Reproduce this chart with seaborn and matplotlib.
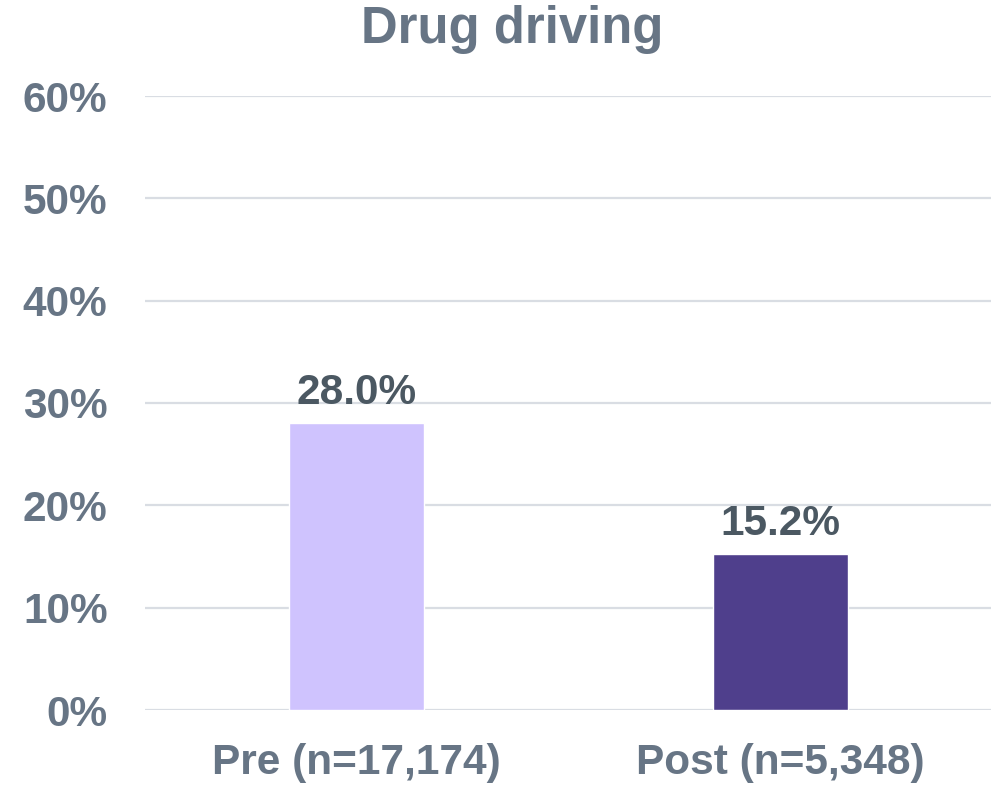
import matplotlib
matplotlib.use("Agg")
import matplotlib.pyplot as plt
import seaborn as sns
import pandas as pd

categories = ["Pre (n=17,174)", "Post (n=5,348)"]
values = [28.0, 15.2]
bar_colors = ["#CFC3FE", "#4F3F8C"]
y_ticks = [0, 10, 20, 30, 40, 50, 60]
y_tick_labels = ["0%", "10%", "20%", "30%", "40%", "50%", "60%"]
title = "Drug driving"

axis_grey = "#677585"
label_grey = "#4B5862"
grid_grey = "#D9DDE3"

sns.set_theme(style="white")
plt.rcParams["font.family"] = ["Liberation Sans", "DejaVu Sans"]
plt.rcParams["font.weight"] = "bold"

df = pd.DataFrame({"group": categories, "pct": values})

fig = plt.figure(figsize=(9.91, 7.85), dpi=100)
ax = fig.add_axes([145 / 991, 1 - 710 / 785, 847 / 991, (710 - 96) / 785])

sns.barplot(data=df, x="group", y="pct", hue="group", palette=bar_colors,
            width=0.318, legend=False, saturation=1, ax=ax, zorder=3)

ax.set_ylim(0, 60)
ax.set_yticks(y_ticks)
ax.set_yticklabels(y_tick_labels)
ax.yaxis.grid(True, color=grid_grey, linewidth=1.6, zorder=0)
ax.set_axisbelow(True)
for s in ax.spines.values():
    s.set_visible(False)

ax.tick_params(axis="y", length=0, pad=27, labelsize=30.5, labelcolor=axis_grey)
ax.tick_params(axis="x", length=0, pad=24, labelsize=30.5, labelcolor=axis_grey)
for lab in ax.get_xticklabels() + ax.get_yticklabels():
    lab.set_fontweight("bold")
ax.set_xlabel("")
ax.set_ylabel("")

for i, v in enumerate(values):
    ax.annotate(f"{v:.1f}%", xy=(i, v), xytext=(0, 14), textcoords="offset points",
                ha="center", va="baseline", fontsize=30.5, fontweight="bold",
                color=label_grey)

fig.text(512 / 991, 1 - 29 / 785, title, ha="center", va="center",
         fontsize=36.5, fontweight="bold", color=axis_grey)

fig.savefig("out.png", dpi=100, facecolor="white")
